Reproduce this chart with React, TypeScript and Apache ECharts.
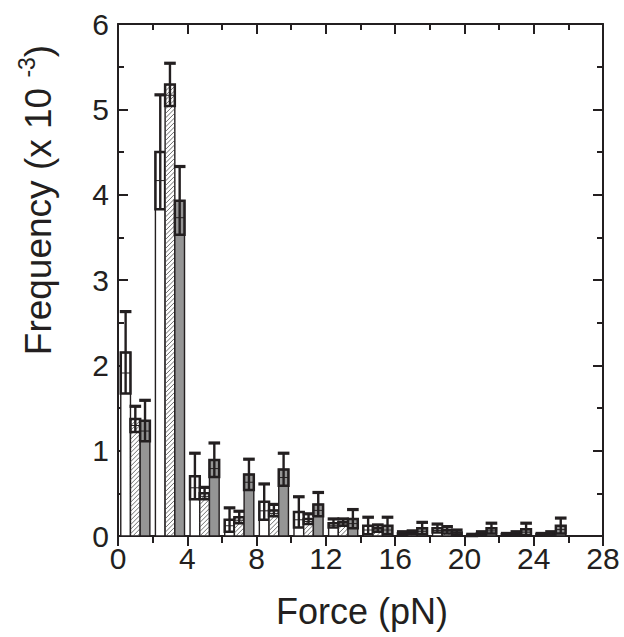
import React, { useEffect, useRef } from "react";
import * as echarts from "echarts";

// ---- data (Force bins in pN, frequency in units of 1e-3) ----
const binStarts = [0, 2, 4, 6, 8, 10, 12, 14, 16, 18, 20, 22, 24];
const whiteValues = [2.15, 4.5, 0.7, 0.19, 0.4, 0.28, 0.15, 0.12, 0.03, 0.09, 0.01, 0.02, 0.02];
const whiteErrors = [0.48, 0.67, 0.27, 0.14, 0.21, 0.18, 0.05, 0.1, 0.02, 0.05, 0.01, 0.01, 0.01];
const hatchedValues = [1.37, 5.29, 0.5, 0.22, 0.3, 0.2, 0.16, 0.09, 0.04, 0.07, 0.03, 0.03, 0.03];
const hatchedErrors = [0.15, 0.25, 0.07, 0.07, 0.07, 0.06, 0.04, 0.04, 0.02, 0.04, 0.02, 0.02, 0.02];
const grayValues = [1.35, 3.93, 0.89, 0.72, 0.78, 0.37, 0.2, 0.12, 0.09, 0.04, 0.09, 0.08, 0.12];
const grayErrors = [0.24, 0.4, 0.2, 0.18, 0.19, 0.14, 0.11, 0.1, 0.07, 0.03, 0.06, 0.07, 0.09];
const xTicks = { min: 0, max: 28, interval: 4 };
const yTicks = { min: 0, max: 6, interval: 1 };

const INK = "#231f20";
const FONT = "'Liberation Sans', Arial, Helvetica, sans-serif";
const BAR_OFFSET = 0.16;
const BAR_W = 0.56;

type Kind = "white" | "hatch" | "gray";

function makeRenderer(slot: number, kind: Kind) {
  return (params: any, api: any) => {
    const bin = api.value(0);
    const v = api.value(1);
    const e = api.value(2);
    const x0 = bin + BAR_OFFSET + slot * BAR_W;
    const pBase = api.coord([x0, 0]);
    const pTop = api.coord([x0 + BAR_W, v]);
    const pLo = api.coord([x0, Math.max(v - e, 0)]);
    const pHi = api.coord([x0, v + e]);
    const left = pBase[0];
    const right = pTop[0];
    const bottom = pBase[1];
    const top = pTop[1];
    const w = right - left;
    const cx = (left + right) / 2;
    const children: any[] = [];
    children.push({
      type: "rect",
      shape: { x: left, y: top, width: w, height: bottom - top },
      style: {
        fill: kind === "gray" ? "#959595" : "#ffffff",
        stroke: INK,
        lineWidth: 1.4,
      },
    });
    if (kind === "hatch") {
      const sp = 4.5;
      const cMin = left + top;
      const cMax = right + bottom;
      for (let c = cMin + sp / 2; c < cMax; c += sp) {
        const xa = Math.max(left, c - bottom);
        const xb = Math.min(right, c - top);
        if (xb - xa > 0.3) {
          children.push({
            type: "line",
            shape: { x1: xa, y1: c - xa, x2: xb, y2: c - xb },
            style: { stroke: "#4a4a4a", lineWidth: 0.8 },
          });
        }
      }
    }
    const boxH = pLo[1] - top;
    if (boxH > 0.5) {
      children.push({
        type: "rect",
        shape: { x: left, y: top, width: w, height: boxH },
        style: { fill: "none", stroke: INK, lineWidth: 2.5 },
      });
      children.push({
        type: "line",
        shape: { x1: left, y1: top + boxH / 2, x2: right, y2: top + boxH / 2 },
        style: { stroke: INK, lineWidth: 1 },
      });
    }
    children.push({
      type: "line",
      shape: { x1: cx, y1: pLo[1], x2: cx, y2: pHi[1] },
      style: { stroke: INK, lineWidth: 2.4 },
    });
    children.push({
      type: "line",
      shape: { x1: cx - w * 0.6, y1: pHi[1], x2: cx + w * 0.6, y2: pHi[1] },
      style: { stroke: INK, lineWidth: 3.2 },
    });
    return { type: "group", children };
  };
}

function seriesData(values: number[], errors: number[]) {
  return binStarts.map((b, i) => [b, values[i], errors[i]]);
}

export default function App() {
  const ref = useRef<HTMLDivElement>(null);
  useEffect(() => {
    if (!ref.current) return;
    const chart = echarts.init(ref.current, undefined, { renderer: "svg" });
    const axisLine = { show: true, onZero: false, lineStyle: { color: INK, width: 2 } };
    const xCommon = {
      type: "value" as const,
      min: xTicks.min,
      max: xTicks.max,
      interval: xTicks.interval,
      axisLine,
      splitLine: { show: false },
      minorSplitLine: { show: false },
    };
    const yCommon = {
      type: "value" as const,
      min: yTicks.min,
      max: yTicks.max,
      interval: yTicks.interval,
      axisLine,
      splitLine: { show: false },
      minorSplitLine: { show: false },
    };
    chart.setOption({
      animation: false,
      backgroundColor: "#ffffff",
      grid: { left: 118, right: 21, top: 24, bottom: 101 },
      xAxis: [
        {
          ...xCommon,
          position: "bottom",
          axisTick: { show: true, inside: false, length: 10, lineStyle: { color: INK, width: 2 } },
          minorTick: { show: true, splitNumber: 2, length: 7, lineStyle: { color: INK, width: 2 } },
          axisLabel: { show: true, fontSize: 30, color: INK, margin: 7, fontFamily: FONT },
        },
        {
          ...xCommon,
          position: "top",
          axisTick: { show: true, inside: true, length: 10, lineStyle: { color: INK, width: 2 } },
          minorTick: { show: true, splitNumber: 2, length: 6, lineStyle: { color: INK, width: 2 } },
          axisLabel: { show: false },
        },
      ],
      yAxis: [
        {
          ...yCommon,
          position: "left",
          axisTick: { show: true, inside: true, length: 10, lineStyle: { color: INK, width: 2 } },
          minorTick: { show: true, splitNumber: 2, length: 6, lineStyle: { color: INK, width: 2 } },
          axisLabel: { show: true, fontSize: 30, color: INK, margin: 9, fontFamily: FONT },
        },
        {
          ...yCommon,
          position: "right",
          axisTick: { show: true, inside: true, length: 10, lineStyle: { color: INK, width: 2 } },
          minorTick: { show: true, splitNumber: 2, length: 6, lineStyle: { color: INK, width: 2 } },
          axisLabel: { show: false },
        },
      ],
      series: [
        { type: "custom", name: "white", xAxisIndex: 0, yAxisIndex: 0, encode: { x: 0, y: 1 }, clip: false, renderItem: makeRenderer(0, "white"), data: seriesData(whiteValues, whiteErrors) },
        { type: "custom", name: "hatched", xAxisIndex: 0, yAxisIndex: 0, encode: { x: 0, y: 1 }, clip: false, renderItem: makeRenderer(1, "hatch"), data: seriesData(hatchedValues, hatchedErrors) },
        { type: "custom", name: "gray", xAxisIndex: 0, yAxisIndex: 0, encode: { x: 0, y: 1 }, clip: false, renderItem: makeRenderer(2, "gray"), data: seriesData(grayValues, grayErrors) },
      ],
      graphic: [
        {
          type: "text",
          x: 362,
          y: 611,
          style: {
            text: "Force (pN)",
            fontSize: 36,
            fontFamily: FONT,
            fill: INK,
            align: "center",
            verticalAlign: "middle",
          },
        },
        {
          type: "text",
          x: 36,
          y: 200,
          rotation: Math.PI / 2,
          style: {
            text: "{a|Frequency (x 10 }{s|-3}{a|)}",
            fontFamily: FONT,
            fill: INK,
            align: "center",
            verticalAlign: "middle",
            rich: {
              a: { fontSize: 37, fontFamily: FONT, fill: INK, lineHeight: 42, verticalAlign: "bottom" },
              s: { fontSize: 23, fontFamily: FONT, fill: INK, lineHeight: 42, verticalAlign: "top" },
            },
          },
        },
      ],
    });
    return () => chart.dispose();
  }, []);
  return (
    <div
      ref={ref}
      style={{ position: "fixed", left: 0, top: 0, width: 624, height: 637, background: "#fff" }}
    />
  );
}
